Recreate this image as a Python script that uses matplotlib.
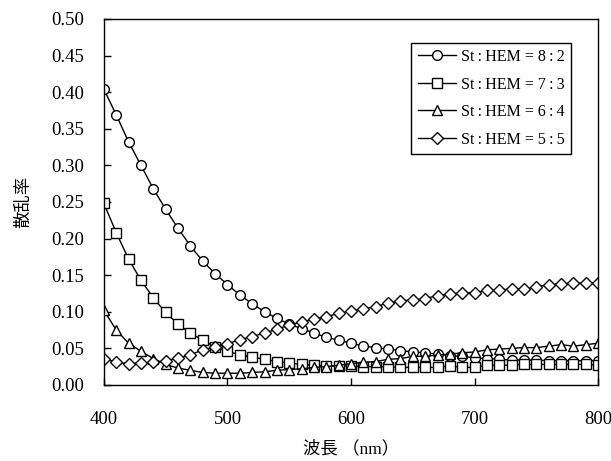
import matplotlib
matplotlib.use('Agg')

import matplotlib.pyplot as plt

plt.rcParams['font.family'] = ['Liberation Serif', 'Noto Sans CJK JP', 'DejaVu Serif']

# 波長 (nm)
wavelength = list(range(400, 810, 10))

# 散乱率
st_8_2 = [0.404, 0.369, 0.332, 0.300, 0.268, 0.240, 0.214, 0.190, 0.169, 0.152,
          0.137, 0.123, 0.111, 0.100, 0.091, 0.083, 0.077, 0.071, 0.065, 0.061,
          0.057, 0.053, 0.051, 0.049, 0.047, 0.045, 0.044, 0.042, 0.040, 0.039,
          0.037, 0.036, 0.035, 0.034, 0.034, 0.034, 0.033, 0.033, 0.033, 0.033,
          0.033]
st_7_3 = [0.248, 0.208, 0.172, 0.143, 0.119, 0.099, 0.083, 0.071, 0.061, 0.052,
          0.046, 0.041, 0.038, 0.035, 0.032, 0.030, 0.028, 0.027, 0.026, 0.026,
          0.026, 0.025, 0.025, 0.025, 0.024, 0.024, 0.024, 0.024, 0.026, 0.024,
          0.024, 0.027, 0.027, 0.027, 0.028, 0.028, 0.028, 0.028, 0.028, 0.028,
          0.027]
st_6_4 = [0.102, 0.075, 0.057, 0.046, 0.036, 0.028, 0.023, 0.020, 0.017, 0.016,
          0.016, 0.016, 0.017, 0.018, 0.020, 0.021, 0.022, 0.024, 0.025, 0.027,
          0.029, 0.031, 0.032, 0.035, 0.036, 0.039, 0.039, 0.041, 0.042, 0.044,
          0.045, 0.048, 0.049, 0.050, 0.051, 0.051, 0.053, 0.055, 0.053, 0.055,
          0.057]
st_5_5 = [0.036, 0.031, 0.029, 0.030, 0.031, 0.033, 0.037, 0.041, 0.048, 0.052,
          0.056, 0.062, 0.066, 0.071, 0.076, 0.082, 0.086, 0.090, 0.093, 0.098,
          0.101, 0.104, 0.107, 0.112, 0.115, 0.116, 0.118, 0.122, 0.124, 0.126,
          0.126, 0.129, 0.130, 0.131, 0.131, 0.134, 0.137, 0.138, 0.139, 0.139,
          0.139]

labels = ['St\u2009:\u2009HEM = 8\u2009:\u20092',
          'St\u2009:\u2009HEM = 7\u2009:\u20093',
          'St\u2009:\u2009HEM = 6\u2009:\u20094',
          'St\u2009:\u2009HEM = 5\u2009:\u20095']

fig = plt.figure(figsize=(6.11, 4.61), dpi=100)
ax = fig.add_axes([0.170, 0.165, 0.809, 0.794])

stil = dict(color='black', lw=1.0, mfc='white', mec='black', mew=1.0)
ax.plot(wavelength, st_8_2, marker='o', ms=7, label=labels[0], **stil)
ax.plot(wavelength, st_7_3, marker='s', ms=6.5, label=labels[1], **stil)
ax.plot(wavelength, st_6_4, marker='^', ms=7.5, label=labels[2], **stil)
ax.plot(wavelength, st_5_5, marker='D', ms=6, label=labels[3], **stil)

ax.set_xlim(400, 800)
ax.set_ylim(0, 0.5)
ax.set_xticks([400, 500, 600, 700, 800])
ax.set_yticks([i * 0.05 for i in range(11)])
ax.yaxis.set_major_formatter(matplotlib.ticker.FormatStrFormatter('%.2f'))
ax.tick_params(direction='in', length=5, width=1, labelsize=13.5)
ax.tick_params(axis='x', pad=19)
ax.tick_params(axis='y', pad=14)
for sp in ax.spines.values():
    sp.set_linewidth(1.0)

ax.set_xlabel('波長 （nm）', fontsize=12.5, labelpad=9)
ax.set_ylabel('散乱率', fontsize=12.5, labelpad=14)

leg = ax.legend(loc='upper right', bbox_to_anchor=(0.945, 0.935), fontsize=11.5,
                frameon=True, fancybox=False, edgecolor='black', framealpha=1,
                handlelength=2.4, borderpad=0.4, labelspacing=0.72,
                handletextpad=0.3, borderaxespad=0)
leg.get_frame().set_linewidth(1.0)

fig.savefig('out.png', dpi=100)
